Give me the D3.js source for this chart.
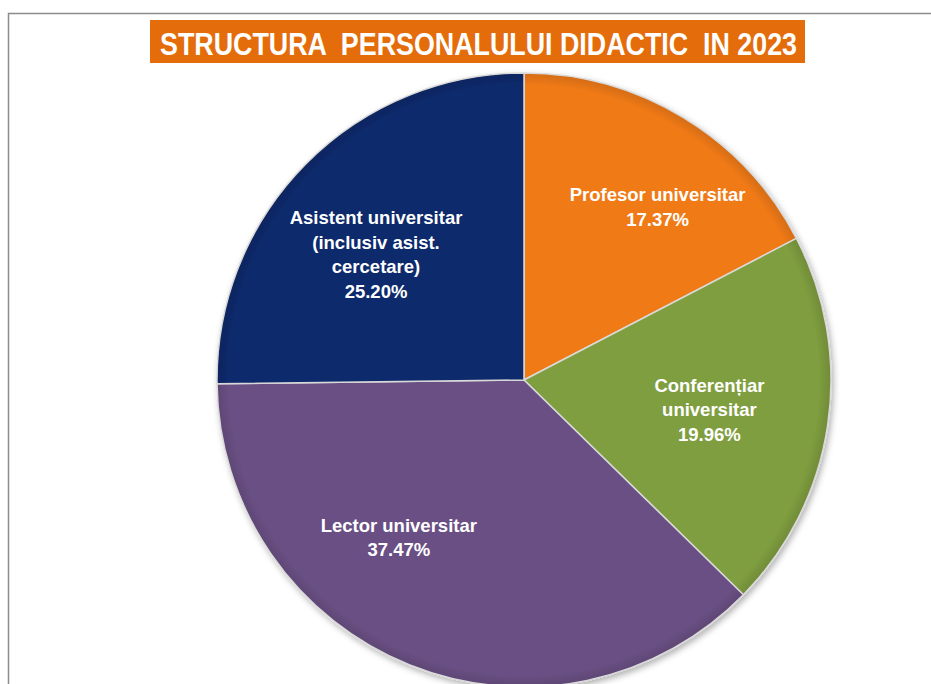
<!DOCTYPE html>
<html>
<head>
<meta charset="utf-8">
<script src="https://cdn.jsdelivr.net/npm/d3@7"></script>
<style>
  body { margin: 0; background: #fff; }
  text { white-space: pre; }
</style>
</head>
<body>
<svg id="chart" width="931" height="684"></svg>
<script>
// date
var titlu = "STRUCTURA  PERSONALULUI DIDACTIC  IN 2023";
var categorii = ["Profesor universitar", "Conferențiar universitar", "Lector universitar", "Asistent universitar (inclusiv asist. cercetare)"];
var procente = [17.37, 19.96, 37.47, 25.20];
// randuri etichete (cum sunt rupte in grafic)
var etichete = [
    ["Profesor universitar"],
    ["Conferențiar", "universitar"],
    ["Lector universitar"],
    ["Asistent universitar", "(inclusiv asist.", "cercetare)"]
];
var culori = ["#F07A14", "#7F9E3F", "#6A5084", "#102A6C"];

var svg = d3.select("#chart");
var width = +svg.attr("width"), height = +svg.attr("height");
var cx = 524, cy = 380, raza = 307;

// chenar gri sus / stanga
svg.append("path")
    .attr("d", "M8.5," + height + " V13.5 H" + width)
    .attr("fill", "none")
    .attr("stroke", "#8c8c8c")
    .attr("stroke-width", 1.5);

// titlu
svg.append("rect")
    .attr("x", 150).attr("y", 20)
    .attr("width", 655).attr("height", 43)
    .attr("fill", "#E46C0A");
svg.append("text")
    .attr("x", 160).attr("y", 55)
    .attr("textLength", 637)
    .attr("lengthAdjust", "spacingAndGlyphs")
    .attr("font-family", "'Liberation Sans Narrow', 'Liberation Sans', Arial, sans-serif")
    .attr("font-weight", "bold")
    .attr("font-size", 32)
    .attr("fill", "#fff")
    .text(titlu);

var defs = svg.append("defs");
var filtru = defs.append("filter").attr("id", "umbra")
    .attr("x", "-10%").attr("y", "-10%").attr("width", "120%").attr("height", "120%");
filtru.append("feDropShadow")
    .attr("dx", 2).attr("dy", 3).attr("stdDeviation", 3)
    .attr("flood-color", "#000").attr("flood-opacity", 0.3);

// gradient radial usor pt efect de relief (coordonate locale, centrul in 0,0)
culori.forEach(function(c, i) {
    var g = defs.append("radialGradient")
        .attr("id", "grad" + i)
        .attr("gradientUnits", "userSpaceOnUse")
        .attr("cx", 0).attr("cy", 0).attr("r", raza);
    g.append("stop").attr("offset", "0%").attr("stop-color", c);
    g.append("stop").attr("offset", "96%").attr("stop-color", c);
    g.append("stop").attr("offset", "100%").attr("stop-color", d3.color(c).darker(0.35));
});

var pie = d3.pie().sort(null).value(function(d) { return d; });
var arc = d3.arc().innerRadius(0).outerRadius(raza);
var arcEticheta = d3.arc().innerRadius(raza * 0.65).outerRadius(raza * 0.65);

var felii = pie(procente);

var g = svg.append("g").attr("transform", "translate(" + cx + "," + cy + ")");

g.append("g").attr("filter", "url(#umbra)")
  .selectAll("path")
  .data(felii)
  .enter().append("path")
    .attr("d", arc)
    .attr("fill", function(d, i) { return "url(#grad" + i + ")"; })
    .attr("stroke", "#d9d9d9")
    .attr("stroke-width", 1.5)
    .attr("stroke-linejoin", "round");

// ajustari de pozitie a etichetelor (best fit din Excel)
var deplasare = [[30, -2], [-12, 1], [-51, -27], [-6, 15]];
var inaltimeRand = 24.5;

var lbl = g.selectAll(".eticheta")
    .data(felii)
    .enter().append("text")
    .attr("class", "eticheta")
    .attr("text-anchor", "middle")
    .attr("font-family", "'Liberation Sans Narrow', 'Liberation Sans', Arial, sans-serif")
    .attr("font-weight", "bold")
    .attr("font-size", 18.5)
    .attr("fill", "#fff")
    .attr("transform", function(d, i) {
        var c = arcEticheta.centroid(d);
        var n = etichete[i].length + 1;
        var y0 = c[1] + deplasare[i][1] - (n - 1) * inaltimeRand / 2 + 6;
        return "translate(" + (c[0] + deplasare[i][0]) + "," + y0 + ")";
    });

lbl.each(function(d, i) {
    var t = d3.select(this);
    var randuri = etichete[i].concat([d3.format(".2f")(procente[i]) + "%"]);
    randuri.forEach(function(r, k) {
        t.append("tspan").attr("x", 0).attr("y", k * inaltimeRand).text(r);
    });
});
</script>
</body>
</html>
